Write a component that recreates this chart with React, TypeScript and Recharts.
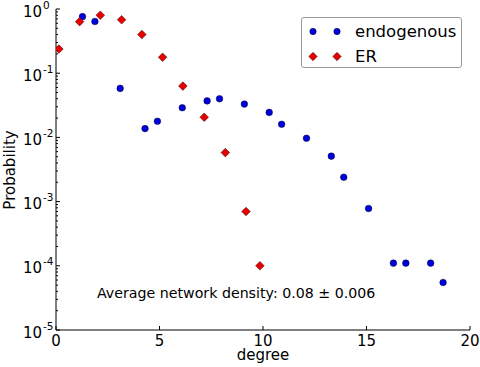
import React from 'react';
import { ScatterChart, Scatter, XAxis, YAxis, Legend } from 'recharts';

const endoDegree = [1.28, 1.88, 3.1, 4.3, 4.9, 6.1, 7.3, 7.9, 9.1, 10.3, 10.9, 12.1, 13.3, 13.9, 15.1, 16.3, 16.9, 18.1, 18.7];
const endoProb = [0.76, 0.64, 0.058, 0.0137, 0.0178, 0.029, 0.037, 0.04, 0.033, 0.0245, 0.016, 0.0097, 0.0051, 0.0024, 0.00078, 0.00011, 0.00011, 0.00011, 0.000055];

const erDegree = [0.14, 1.14, 2.14, 3.17, 4.15, 5.15, 6.13, 7.16, 8.18, 9.18, 9.85];
const erProb = [0.238, 0.635, 0.8, 0.68, 0.4, 0.177, 0.063, 0.0206, 0.0058, 0.0007, 0.0001];

const degreeTicks = [0, 5, 10, 15, 20];
const decadeTicks = [1e-5, 1e-4, 1e-3, 1e-2, 1e-1, 1];
const decadeExp = ['-5', '-4', '-3', '-2', '-1', '0'];
const minorSteps = [2, 3, 4, 5, 6, 7, 8, 9];

const endoData = endoDegree.map((d, i) => ({ degree: d, prob: endoProb[i] }));
const erData = erDegree.map((d, i) => ({ degree: d, prob: erProb[i] }));
const allProbTicks = [
  ...decadeTicks,
  ...decadeTicks.slice(0, -1).flatMap((t) => minorSteps.map((m) => t * m)),
].sort((a, b) => a - b);

const FONT = '"DejaVu Sans", sans-serif';
const BLUE = '#0000dd';
const RED = '#e80000';

const decadeIndex = (v: number) => decadeTicks.findIndex((t) => Math.abs(v / t - 1) < 1e-6);

const LeftTick = (props: any) => {
  const { x, y, payload } = props;
  const idx = decadeIndex(payload.value);
  const major = idx >= 0;
  return (
    <g>
      <line x1={x} x2={x + (major ? 4 : 2)} y1={y} y2={y} stroke="#000" strokeWidth={1} />
      {major && (
        <text x={x - 14} y={y + 7.5} textAnchor="end" fontSize={15} fontFamily={FONT} fill="#000">
          10
        </text>
      )}
      {major && (
        <text x={x - 13} y={y - 0.5} textAnchor="start" fontSize={10.5} fontFamily={FONT} fill="#000">
          {decadeExp[idx]}
        </text>
      )}
    </g>
  );
};

const RightTick = (props: any) => {
  const { x, y, payload } = props;
  const major = decadeIndex(payload.value) >= 0;
  return <line x1={x} x2={x - (major ? 4 : 2)} y1={y} y2={y} stroke="#000" strokeWidth={1} />;
};

const BottomTick = (props: any) => {
  const { x, y, payload } = props;
  return (
    <g>
      <line x1={x} x2={x} y1={y} y2={y - 4} stroke="#000" strokeWidth={1} />
      <text x={x} y={y + 16} textAnchor="middle" fontSize={15} fontFamily={FONT} fill="#000">
        {payload.value}
      </text>
    </g>
  );
};

const TopTick = (props: any) => {
  const { x, y } = props;
  return <line x1={x} x2={x} y1={y} y2={y + 4} stroke="#000" strokeWidth={1} />;
};

const Dot = (p: any) => (
  <circle cx={p.cx} cy={p.cy} r={3.3} fill={BLUE} stroke="#000033" strokeWidth={0.5} />
);

const Diamond = (p: any) => {
  const r = 4.3;
  return (
    <polygon
      points={`${p.cx},${p.cy - r} ${p.cx + r},${p.cy} ${p.cx},${p.cy + r} ${p.cx - r},${p.cy}`}
      fill={RED}
      stroke="#300000"
      strokeWidth={0.5}
    />
  );
};

const LegendBox = () => (
  <div
    style={{
      width: 159,
      height: 49,
      border: '1px solid #999',
      borderRadius: 3,
      background: '#fff',
      fontFamily: FONT,
      fontSize: 16.5,
      position: 'relative',
    }}
  >
    <svg width={40} height={49} style={{ position: 'absolute', left: 0, top: 0 }}>
      <circle cx={11} cy={13.5} r={3.2} fill={BLUE} stroke="#000033" strokeWidth={0.5} />
      <circle cx={35} cy={13.5} r={3.2} fill={BLUE} stroke="#000033" strokeWidth={0.5} />
      <polygon points="11,34.3 15.2,38.5 11,42.7 6.8,38.5" fill={RED} stroke="#300000" strokeWidth={0.5} />
      <polygon points="35,34.3 39.2,38.5 35,42.7 30.8,38.5" fill={RED} stroke="#300000" strokeWidth={0.5} />
    </svg>
    <div style={{ position: 'absolute', left: 53, top: 2, lineHeight: '24px' }}>endogenous</div>
    <div style={{ position: 'absolute', left: 53, top: 27, lineHeight: '24px' }}>ER</div>
  </div>
);

export default function App() {
  return (
    <div style={{ position: 'absolute', left: 0, top: 0, width: 480, height: 367, background: '#fff' }}>
      <ScatterChart width={480} height={367} margin={{ top: 9, right: 10, left: 10, bottom: 5 }}>
        <XAxis
          xAxisId="bottom"
          dataKey="degree"
          type="number"
          domain={[0, 20]}
          ticks={degreeTicks}
          interval={0}
          height={32}
          tickSize={0}
          tickMargin={0}
          tick={<BottomTick />}
          axisLine={{ stroke: '#000' }}
          allowDataOverflow
        />
        <XAxis
          xAxisId="top"
          orientation="top"
          type="number"
          domain={[0, 20]}
          ticks={degreeTicks}
          interval={0}
          height={0}
          tickSize={0}
          tickMargin={0}
          tick={<TopTick />}
          axisLine={{ stroke: '#000' }}
        />
        <YAxis
          yAxisId="left"
          dataKey="prob"
          type="number"
          scale="log"
          domain={[1e-5, 1]}
          ticks={allProbTicks}
          interval={0}
          width={46}
          tickSize={0}
          tickMargin={0}
          tick={<LeftTick />}
          axisLine={{ stroke: '#000' }}
          allowDataOverflow
        />
        <YAxis
          yAxisId="right"
          orientation="right"
          type="number"
          scale="log"
          domain={[1e-5, 1]}
          ticks={allProbTicks}
          interval={0}
          width={0}
          tickSize={0}
          tickMargin={0}
          tick={<RightTick />}
          axisLine={{ stroke: '#000' }}
        />
        <Scatter
          name="endogenous"
          data={endoData}
          xAxisId="bottom"
          yAxisId="left"
          shape={<Dot />}
          isAnimationActive={false}
        />
        <Scatter
          name="ER"
          data={erData}
          xAxisId="bottom"
          yAxisId="left"
          shape={<Diamond />}
          isAnimationActive={false}
        />
        <Legend
          layout="vertical"
          align="center"
          verticalAlign="middle"
          content={() => <LegendBox />}
          wrapperStyle={{ position: 'absolute', left: 301, top: 17, width: 161 }}
        />
        <text x={97} y={298} fontSize={14.2} fontFamily={FONT} fill="#000">
          Average network density: 0.08 ± 0.006
        </text>
        <text x={263} y={360} textAnchor="middle" fontSize={15} fontFamily={FONT} fill="#000">
          degree
        </text>
        <text
          x={15}
          y={170}
          textAnchor="middle"
          fontSize={15}
          fontFamily={FONT}
          fill="#000"
          transform="rotate(-90 15 170)"
        >
          Probability
        </text>
      </ScatterChart>
    </div>
  );
}
